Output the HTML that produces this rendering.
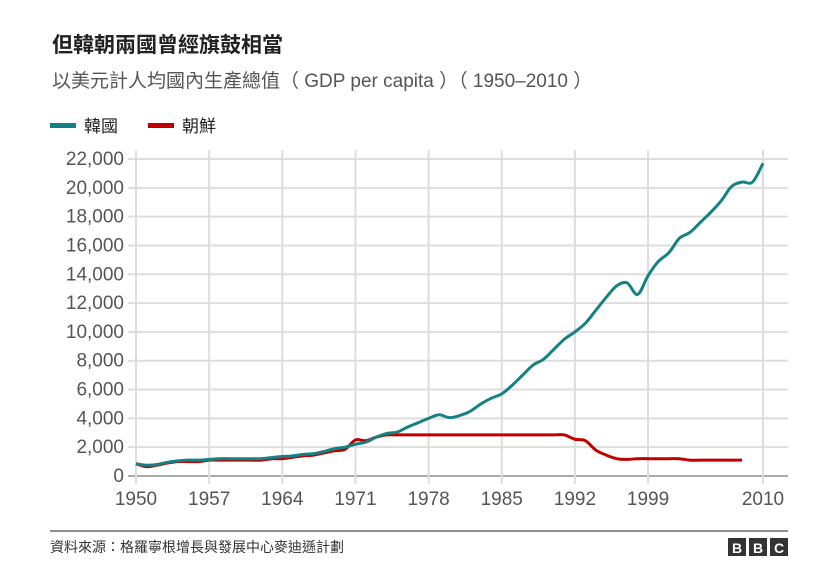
<!DOCTYPE html>
<html><head><meta charset="utf-8"><style>
body{margin:0;background:#fff;width:837px;height:570px;overflow:hidden;font-family:"Liberation Sans","Noto Sans CJK TC",sans-serif}
</style></head><body>
<svg width="837" height="570" id="c" font-family="Liberation Sans, Noto Sans CJK TC, sans-serif">
<text x="52" y="52" font-size="21" font-weight="bold" fill="#222">但韓朝兩國曾經旗鼓相當</text>
<text x="52" y="87" font-size="19" fill="#555">以美元計人均國內生產總值（ GDP per capita ）（ 1950–2010 ）</text>
<g>
<rect x="50" y="123" width="26" height="5" fill="#148282"/>
<text x="84" y="132" font-size="17" fill="#222">韓國</text>
<rect x="148" y="123" width="26" height="5" fill="#c00000"/>
<text x="182" y="132" font-size="17" fill="#222">朝鮮</text>
</g>
<g id="grid"></g><g id="axes"></g><g id="series"></g>
<line x1="50" y1="531" x2="788" y2="531" stroke="#222" stroke-width="1"/>
<text x="50" y="552" font-size="14" fill="#333">資料來源：格羅寧根增長與發展中心麥迪遜計劃</text>
<g>
<rect x="728" y="538" width="18" height="18" fill="#333"/><text x="737" y="553" font-size="14" font-weight="bold" fill="#fff" text-anchor="middle">B</text>
<rect x="749" y="538" width="18" height="18" fill="#333"/><text x="758" y="553" font-size="14" font-weight="bold" fill="#fff" text-anchor="middle">B</text>
<rect x="770" y="538" width="18" height="18" fill="#333"/><text x="779" y="553" font-size="14" font-weight="bold" fill="#fff" text-anchor="middle">C</text>
</g>
</svg>
<script>
const years=[];for(let y=1950;y<=2010;y++)years.push(y);
const korea=[850,750,800,950,1050,1100,1100,1150,1200,1200,1200,1200,1200,1280,1350,1400,1500,1550,1700,1900,2000,2200,2350,2700,2950,3050,3400,3700,4000,4250,4050,4200,4500,5000,5400,5700,6300,7000,7700,8100,8800,9500,10000,10600,11500,12400,13200,13400,12600,13900,14900,15500,16500,16900,17600,18300,19100,20100,20400,20400,21700];
const nkYears=[];for(let y=1950;y<=2008;y++)nkYears.push(y);
const northKorea=[850,650,750,900,1000,1000,1000,1100,1100,1100,1100,1100,1100,1200,1200,1300,1400,1450,1600,1750,1850,2500,2450,2700,2850,2850,2850,2850,2850,2850,2850,2850,2850,2850,2850,2850,2850,2850,2850,2850,2850,2850,2550,2450,1800,1450,1200,1150,1200,1200,1200,1200,1200,1100,1100,1100,1100,1100,1100];
const yTicks=[0,2000,4000,6000,8000,10000,12000,14000,16000,18000,20000,22000];
const xTicks=[1950,1957,1964,1971,1978,1985,1992,1999,2010];
const NS='http://www.w3.org/2000/svg';
const X=v=>136+(v-1950)*(763-136)/60;
const Y=v=>476-v*(476-159)/22000;
function mk(t,a,p){const e=document.createElementNS(NS,t);for(const k in a)e.setAttribute(k,a[k]);p.appendChild(e);return e;}
const g=document.getElementById('grid'),ax=document.getElementById('axes'),s=document.getElementById('series');
yTicks.forEach(v=>{
const l=mk('line',{x1:128,x2:788,y1:Y(v),y2:Y(v),stroke:v===0?'#aaa':'#ddd','stroke-width':2},g);


const t=mk('text',{x:124,y:Y(v)+6,'font-size':19,fill:'#555','text-anchor':'end'},ax);
t.textContent=v.toLocaleString('en-US');


});
xTicks.forEach(v=>{
const l=mk('line',{x1:X(v),x2:X(v),y1:150,y2:484,stroke:'#ddd','stroke-width':2},g);


const t=mk('text',{x:X(v),y:505,'font-size':19,fill:'#555','text-anchor':'middle'},ax);
t.textContent=v;


});
function path(xs,ys){const p=xs.map((x,i)=>[X(x),Y(ys[i])]);let d='M'+p[0][0]+','+p[0][1];
for(let i=0;i<p.length-1;i++){const p0=p[Math.max(0,i-1)],p1=p[i],p2=p[i+1],p3=p[Math.min(p.length-1,i+2)];
const c1x=p1[0]+(p2[0]-p0[0])/6,c1y=p1[1]+(p2[1]-p0[1])/6,c2x=p2[0]-(p3[0]-p1[0])/6,c2y=p2[1]-(p3[1]-p1[1])/6;
d+=`C${c1x},${c1y} ${c2x},${c2y} ${p2[0]},${p2[1]}`;}return d;}
const nk=mk('path',{d:path(nkYears,northKorea),fill:'none',stroke:'#c00000','stroke-width':3,'stroke-linejoin':'round'},s);


const kr=mk('path',{d:path(years,korea),fill:'none',stroke:'#148282','stroke-width':3,'stroke-linejoin':'round'},s);


</script>
</body></html>
